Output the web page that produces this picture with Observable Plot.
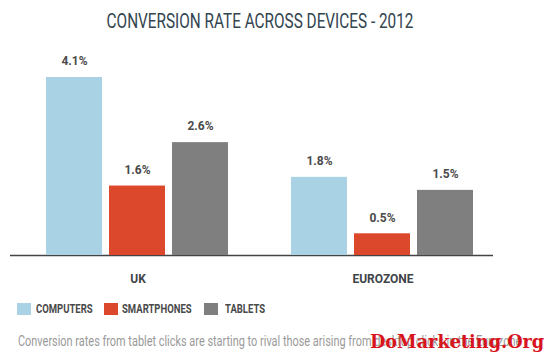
<!DOCTYPE html>
<html>
<head>
<meta charset="utf-8">
<script src="https://cdn.jsdelivr.net/npm/d3@7"></script>
<script src="https://cdn.jsdelivr.net/npm/@observablehq/plot@0.6"></script>
<style>
  html, body { margin: 0; padding: 0; background: #fff; }
  #wrap { position: relative; width: 549px; height: 357px; overflow: hidden;
    font-family: Roboto, "Liberation Sans", sans-serif; }
  #title { position: absolute; left: 0; width: 520px; top: 9px; text-align: center;
    font-size: 21px; color: #33454f; transform: scaleX(0.73); transform-origin: 260px 0; white-space: nowrap; }
  #chart { position: absolute; left: 0; top: 45px; }
  #legend { position: absolute; left: 17px; top: 301px; display: flex; align-items: center;
    font-size: 12.5px; font-weight: bold; color: #4a4a4a; }
  #legend .item { display: flex; align-items: center; }
  #legend .sw { width: 14px; height: 12px; flex: none; }
  #legend span { display: inline-block; transform: scaleX(0.76); transform-origin: 0 50%; white-space: nowrap; }
  #caption { position: absolute; left: 18px; top: 333px; font-size: 14px; color: #9a9a9a; white-space: nowrap;
    transform: scaleX(0.78); transform-origin: 0 0; }
  #mark { position: absolute; left: 370px; top: 330px; font-family: "DejaVu Serif", "Liberation Serif", serif;
    font-weight: bold; font-size: 19px; color: #d8141c; white-space: nowrap; transform: scaleX(0.93); transform-origin: 0 0; }
</style>
</head>
<body>
<div id="wrap">
  <div id="title">CONVERSION RATE ACROSS DEVICES - 2012</div>
  <div id="chart"></div>
  <div id="legend"></div>
  <div id="caption">Conversion rates from tablet clicks are starting to rival those arising from desktop clicks in the Eurozone</div>
  <div id="mark">DoMarketing.Org</div>
</div>
<script>
const regions = ["UK", "EUROZONE"];
const devices = ["COMPUTERS", "SMARTPHONES", "TABLETS"];
const ukValues = [4.1, 1.6, 2.6];
const euroValues = [1.8, 0.5, 1.5];
const colors = ["#a9d3e4", "#dc482b", "#7f7f80"];

const data = [];
devices.forEach((d, i) => data.push({region: "UK", device: d, value: ukValues[i]}));
devices.forEach((d, i) => data.push({region: "EUROZONE", device: d, value: euroValues[i]}));

const font = 'Roboto, "Liberation Sans", sans-serif';

const chart = Plot.plot({
  width: 549,
  height: 245,
  marginLeft: 45,
  marginRight: 74,
  marginTop: 32,
  marginBottom: 35,
  style: {fontFamily: font, background: "transparent"},
  fx: {domain: regions, paddingInner: 0.245, paddingOuter: 0, axis: null},
  x: {domain: devices, paddingInner: 0.109, paddingOuter: 0, axis: null},
  y: {domain: [0, 4.1], axis: null},
  color: {domain: devices, range: colors},
  marks: [
    Plot.ruleY([{region: "UK", v: 0}], {fx: "region", y: "v", insetLeft: -35, insetRight: -30, stroke: "#444", strokeWidth: 1.3}),
    Plot.ruleY([{region: "EUROZONE", v: 0}], {fx: "region", y: "v", insetLeft: -30, insetRight: -18, stroke: "#444", strokeWidth: 1.3}),
    Plot.barY(data, {fx: "region", x: "device", y: "value", fill: "device"}),
    Plot.text(data, {fx: "region", x: "device", y: "value", text: d => d.value.toFixed(1) + "%",
      dy: -16, fontSize: 12, fontWeight: "bold", fill: "#4a4a4a"}),
    Plot.text(regions, {fx: d => d, text: d => d, frameAnchor: "bottom", dy: 27,
      fontSize: 12, fontWeight: "bold", fill: "#3f4449"})
  ]
});
document.getElementById("chart").appendChild(chart);

const legend = document.getElementById("legend");
const gaps = [[5, 14], [4, 17], [7, 0]];
const textW = [54, 65, 37];
devices.forEach((d, i) => {
  const item = document.createElement("div");
  item.className = "item";
  const sw = document.createElement("div");
  sw.className = "sw";
  sw.style.background = colors[i];
  sw.style.marginRight = gaps[i][0] + "px";
  const t = document.createElement("span");
  t.textContent = d;
  const box = document.createElement("div");
  box.style.width = textW[i] + "px";
  box.style.marginRight = gaps[i][1] + "px";
  box.appendChild(t);
  item.appendChild(sw);
  item.appendChild(box);
  legend.appendChild(item);
});
</script>
</body>
</html>
